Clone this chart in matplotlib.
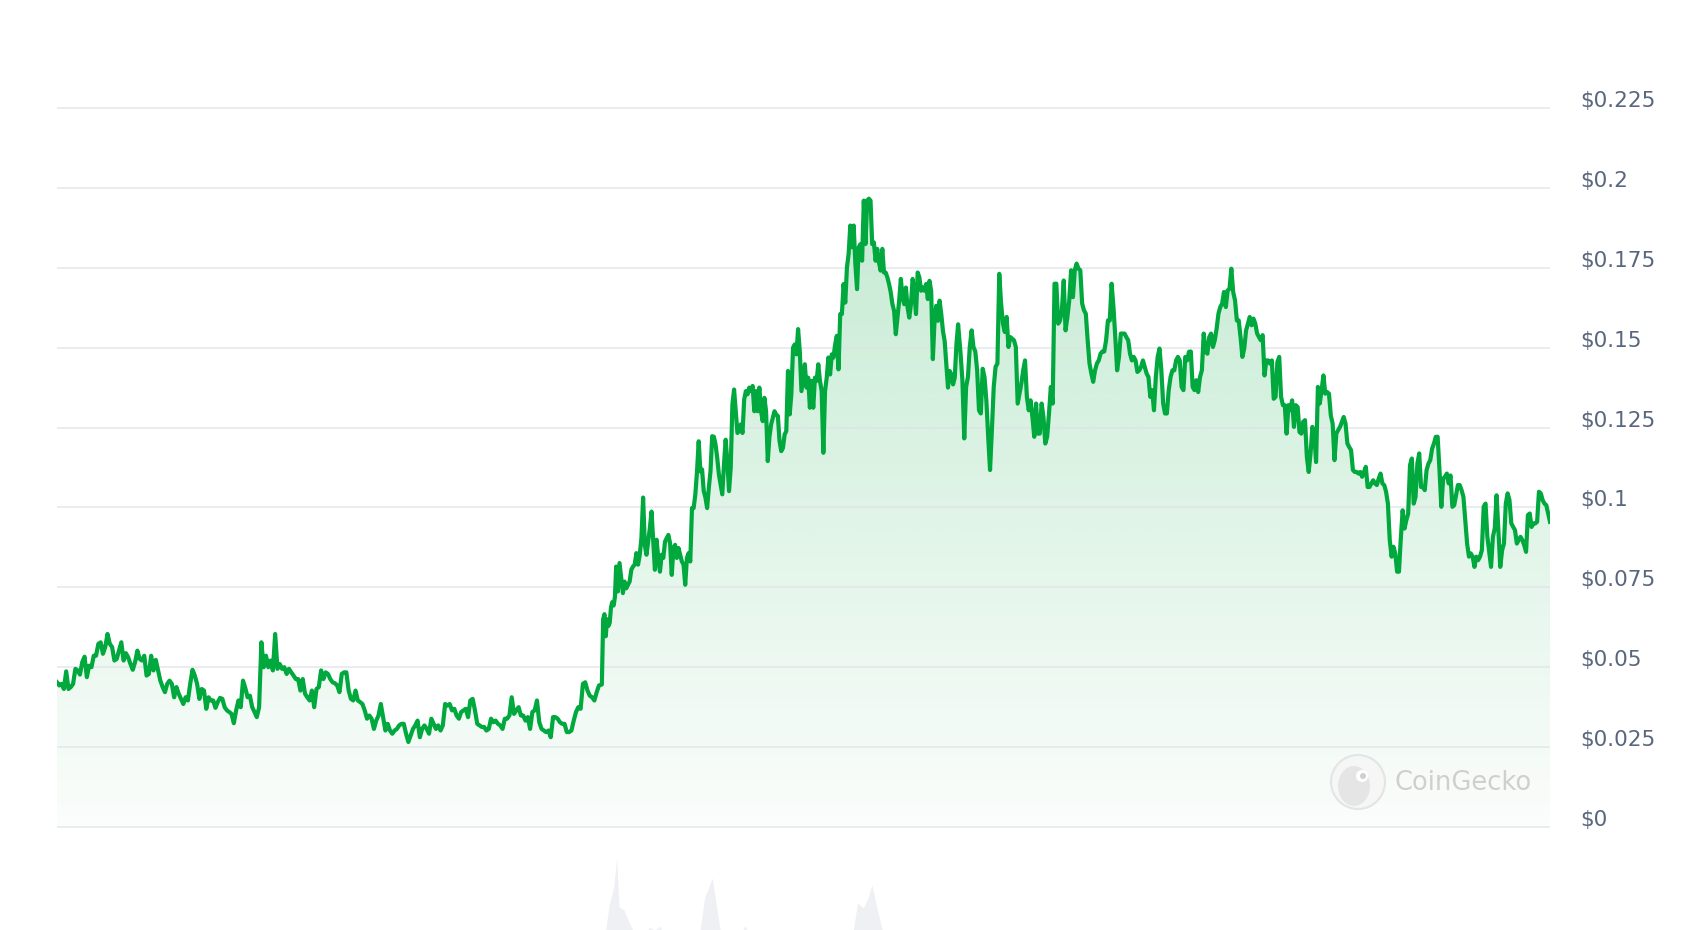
import numpy as np
import matplotlib
matplotlib.use("Agg")
import matplotlib.pyplot as plt
from matplotlib.colors import to_rgb
from matplotlib.patches import Circle, Ellipse, Polygon
from matplotlib.transforms import IdentityTransform, ScaledTranslation

# price series in four stretches (day ranges of a 365 day window)
seg_days = [(0.0, 132.5), (133.2, 136.4), (136.7, 220.3), (220.9, 365.0)]

price_a = [
    0.0453, 0.0443, 0.0448, 0.0432, 0.0487, 0.0432, 0.0438, 0.0448, 0.0495, 0.0490,
    0.0477, 0.0516, 0.0533, 0.0469, 0.0505, 0.0500, 0.0536, 0.0536, 0.0573, 0.0578,
    0.0542, 0.0563, 0.0604, 0.0573, 0.0563, 0.0521, 0.0526, 0.0552, 0.0578, 0.0521,
    0.0544, 0.0531, 0.0510, 0.0492, 0.0516, 0.0552, 0.0526, 0.0521, 0.0536, 0.0474,
    0.0479, 0.0536, 0.0490, 0.0523, 0.0490, 0.0458, 0.0438, 0.0422, 0.0448, 0.0458,
    0.0448, 0.0406, 0.0438, 0.0417, 0.0401, 0.0385, 0.0406, 0.0396, 0.0448, 0.0492,
    0.0474, 0.0448, 0.0401, 0.0432, 0.0427, 0.0370, 0.0406, 0.0396, 0.0396, 0.0373,
    0.0391, 0.0404, 0.0401, 0.0375, 0.0365, 0.0360, 0.0354, 0.0325, 0.0365, 0.0396,
    0.0375, 0.0458, 0.0435, 0.0406, 0.0411, 0.0375, 0.0360, 0.0344, 0.0375, 0.0578,
    0.0500, 0.0536, 0.0500, 0.0521, 0.0490, 0.0604, 0.0495, 0.0510, 0.0495, 0.0500,
    0.0479, 0.0495, 0.0484, 0.0474, 0.0463, 0.0463, 0.0427, 0.0463, 0.0417, 0.0406,
    0.0396, 0.0427, 0.0375, 0.0432, 0.0438, 0.0490, 0.0463, 0.0484, 0.0479, 0.0463,
    0.0453, 0.0450, 0.0443, 0.0422, 0.0479, 0.0484, 0.0484, 0.0427, 0.0401, 0.0396,
    0.0427, 0.0396, 0.0391, 0.0385, 0.0365, 0.0339, 0.0349, 0.0339, 0.0307, 0.0333,
    0.0349, 0.0385, 0.0344, 0.0302, 0.0323, 0.0302, 0.0292, 0.0302, 0.0307, 0.0318,
    0.0323, 0.0323, 0.0292, 0.0266, 0.0286, 0.0307, 0.0318, 0.0333, 0.0281, 0.0307,
    0.0318, 0.0307, 0.0292, 0.0339, 0.0323, 0.0307, 0.0318, 0.0302, 0.0318, 0.0385,
    0.0380, 0.0385, 0.0365, 0.0370, 0.0349, 0.0339, 0.0360, 0.0365, 0.0370, 0.0344,
    0.0396, 0.0401, 0.0365, 0.0323, 0.0318, 0.0313, 0.0313, 0.0302, 0.0307, 0.0339,
    0.0328, 0.0333, 0.0323, 0.0318, 0.0307, 0.0339, 0.0339, 0.0349, 0.0406, 0.0354,
    0.0365, 0.0375, 0.0349, 0.0349, 0.0333, 0.0344, 0.0307, 0.0360, 0.0365, 0.0396,
    0.0328, 0.0307, 0.0302, 0.0297, 0.0302, 0.0281, 0.0344, 0.0344, 0.0339, 0.0328,
    0.0323, 0.0323, 0.0297, 0.0297, 0.0302, 0.0333, 0.0360, 0.0375, 0.0370, 0.0448,
    0.0453, 0.0427, 0.0411, 0.0406, 0.0396, 0.0422, 0.0443,
]

price_b = [0.0446, 0.0650, 0.0666, 0.0597, 0.0650, 0.0629, 0.0639, 0.0688, 0.0704, 0.0693, 0.0720]

price_c = [
    0.0815, 0.0737, 0.0826, 0.0779, 0.0732, 0.0768, 0.0747, 0.0758, 0.0768, 0.0805,
    0.0815, 0.0821, 0.0857, 0.0821, 0.0852, 0.0904, 0.1031, 0.0883, 0.0852, 0.0893,
    0.0935, 0.0987, 0.0893, 0.0805, 0.0899, 0.0842, 0.0799, 0.0852, 0.0842, 0.0893,
    0.0904, 0.0914, 0.0888, 0.0789, 0.0873, 0.0883, 0.0842, 0.0873, 0.0852, 0.0831,
    0.0821, 0.0758, 0.0842, 0.0857, 0.0831, 0.0998, 0.0998, 0.1041, 0.1113, 0.1207,
    0.1113, 0.1119, 0.1051, 0.1031, 0.0998, 0.1061, 0.1113, 0.1223, 0.1221, 0.1197,
    0.1155, 0.1103, 0.1071, 0.1041, 0.1134, 0.1212, 0.1145, 0.1051, 0.1124, 0.1322,
    0.1369, 0.1301, 0.1233, 0.1239, 0.1260, 0.1233, 0.1338, 0.1364, 0.1354, 0.1375,
    0.1364, 0.1380, 0.1301, 0.1364, 0.1301, 0.1375, 0.1301, 0.1270, 0.1343, 0.1301,
    0.1145, 0.1221, 0.1260, 0.1280, 0.1301, 0.1291, 0.1286, 0.1207, 0.1176, 0.1186,
    0.1228, 0.1239, 0.1427, 0.1291, 0.1354, 0.1500, 0.1510, 0.1479, 0.1558, 0.1490,
    0.1364, 0.1406, 0.1448, 0.1375, 0.1406, 0.1312, 0.1396, 0.1312, 0.1406, 0.1396,
    0.1448, 0.1396, 0.1364, 0.1171, 0.1364, 0.1406, 0.1469, 0.1416, 0.1479, 0.1469,
    0.1510, 0.1537, 0.1432, 0.1605, 0.1605, 0.1699, 0.1641, 0.1751, 0.1793, 0.1882,
    0.1814, 0.1882, 0.1762, 0.1683, 0.1814, 0.1824, 0.1772, 0.1960, 0.1824, 0.1960,
    0.1966, 0.1960, 0.1824, 0.1829, 0.1772, 0.1809, 0.1767, 0.1741, 0.1809, 0.1735,
    0.1735, 0.1720, 0.1699, 0.1673, 0.1636, 0.1615, 0.1542, 0.1594, 0.1647, 0.1715,
    0.1657, 0.1636, 0.1688, 0.1626, 0.1594, 0.1636, 0.1715, 0.1673, 0.1605, 0.1735,
    0.1720, 0.1678, 0.1688, 0.1678, 0.1699, 0.1652, 0.1709, 0.1678, 0.1464, 0.1584,
    0.1631, 0.1584, 0.1647, 0.1605, 0.1552, 0.1521, 0.1448, 0.1375, 0.1427, 0.1416,
    0.1385, 0.1406, 0.1510, 0.1573,
]

price_d = [
    0.1481, 0.1398, 0.1216, 0.1377, 0.1408, 0.1502, 0.1554, 0.1502, 0.1488, 0.1429,
    0.1304, 0.1294, 0.1434, 0.1408, 0.1335, 0.1221, 0.1117, 0.1242, 0.1377, 0.1440,
    0.1450, 0.1731, 0.1638, 0.1575, 0.1549, 0.1596, 0.1502, 0.1533, 0.1528, 0.1523,
    0.1502, 0.1325, 0.1356, 0.1388, 0.1429, 0.1460, 0.1346, 0.1304, 0.1335, 0.1283,
    0.1221, 0.1325, 0.1231, 0.1231, 0.1325, 0.1283, 0.1200, 0.1221, 0.1294, 0.1377,
    0.1325, 0.1700, 0.1700, 0.1575, 0.1585, 0.1617, 0.1710, 0.1554, 0.1596, 0.1648,
    0.1742, 0.1658, 0.1742, 0.1763, 0.1747, 0.1742, 0.1638, 0.1617, 0.1606, 0.1523,
    0.1450, 0.1419, 0.1393, 0.1429, 0.1450, 0.1460, 0.1481, 0.1488, 0.1488, 0.1523,
    0.1585, 0.1585, 0.1700, 0.1627, 0.1533, 0.1429, 0.1471, 0.1544, 0.1544, 0.1544,
    0.1533, 0.1523, 0.1481, 0.1460, 0.1471, 0.1460, 0.1424, 0.1429, 0.1440, 0.1460,
    0.1440, 0.1419, 0.1408, 0.1346, 0.1367, 0.1304, 0.1408, 0.1471, 0.1497, 0.1429,
    0.1325, 0.1294, 0.1294, 0.1367, 0.1408, 0.1429, 0.1429, 0.1460, 0.1471, 0.1460,
    0.1377, 0.1367, 0.1471, 0.1460, 0.1487, 0.1488, 0.1377, 0.1367, 0.1398, 0.1361,
    0.1408, 0.1429, 0.1544, 0.1488, 0.1481, 0.1533, 0.1544, 0.1502, 0.1523, 0.1559,
    0.1606, 0.1627, 0.1638, 0.1674, 0.1627, 0.1679, 0.1684, 0.1747, 0.1674, 0.1648,
    0.1585, 0.1585, 0.1533, 0.1471, 0.1497, 0.1554, 0.1575, 0.1596, 0.1570, 0.1591,
    0.1575, 0.1544, 0.1533, 0.1523, 0.1539, 0.1413, 0.1460, 0.1460, 0.1450, 0.1460,
    0.1340, 0.1346, 0.1455, 0.1471, 0.1346, 0.1320, 0.1320, 0.1231, 0.1320, 0.1304,
    0.1335, 0.1252, 0.1320, 0.1314, 0.1236, 0.1231, 0.1268, 0.1273, 0.1158, 0.1111,
    0.1169, 0.1252, 0.1231, 0.1142, 0.1377, 0.1325, 0.1367, 0.1413, 0.1356, 0.1361,
    0.1356, 0.1288, 0.1262, 0.1148, 0.1231, 0.1242, 0.1252, 0.1268, 0.1283, 0.1262,
    0.1200, 0.1189, 0.1179, 0.1117, 0.1111, 0.1111, 0.1106, 0.1111, 0.1096, 0.1111,
    0.1127, 0.1064, 0.1064, 0.1075, 0.1085, 0.1075, 0.1070, 0.1090, 0.1106, 0.1075,
    0.1070, 0.1049, 0.1012, 0.0898, 0.0846, 0.0877, 0.0856, 0.0799, 0.0799, 0.0903,
    0.0991, 0.0934, 0.0960, 0.0981, 0.1132, 0.1153, 0.1012, 0.1033, 0.1137, 0.1169,
    0.1064, 0.1064, 0.1054, 0.1117, 0.1137, 0.1148, 0.1184, 0.1200, 0.1221, 0.1221,
    0.1117, 0.1002, 0.1090, 0.1096, 0.1106, 0.1075, 0.1100, 0.1002, 0.1007, 0.1038,
    0.1070, 0.1070, 0.1054, 0.1033, 0.0960, 0.0887, 0.0846, 0.0856, 0.0846, 0.0814,
    0.0846, 0.0835, 0.0846, 0.0866, 0.1002, 0.1012, 0.0908, 0.0861, 0.0814, 0.0908,
    0.0934, 0.1038, 0.0929, 0.0814, 0.0866, 0.0887, 0.1012, 0.1044, 0.1023, 0.0950,
    0.0939, 0.0929, 0.0887, 0.0898, 0.0908, 0.0898, 0.0882, 0.0861, 0.0976, 0.0981,
    0.0939, 0.0950, 0.0950, 0.0955, 0.1049, 0.1044, 0.1023, 0.1012, 0.1007, 0.0981,
    0.0955,
]

# trading volume (only the tall spikes poke into view at the bottom)
vol_days = [0, 133.9, 134.9, 136.1, 136.8, 137.4, 138.6, 139.6, 140.5, 141.9, 143.8,
            144.7, 146.1, 147.5, 148.5, 156.9, 158.3, 160.2, 161.1, 162.5, 166.7,
            168.1, 169.5, 170.5, 171.4, 194.3, 195.7, 197.1, 198.3, 199.2, 200.4,
            202.3, 365]
vol = [20, 23, 53, 73, 102, 53, 50, 40, 32, 20, 20, 33, 30, 34, 20, 20, 62, 82, 57,
       20, 20, 34, 25, 27, 20, 20, 57, 52, 62, 75, 53, 20, 20]

tick_values = [0, 0.025, 0.05, 0.075, 0.1, 0.125, 0.15, 0.175, 0.2, 0.225]
tick_labels = ["$0", "$0.025", "$0.05", "$0.075", "$0.1", "$0.125", "$0.15",
               "$0.175", "$0.2", "$0.225"]

GREEN = "#00a83e"
LABEL = "#58667e"

segments = [price_a, price_b, price_c, price_d]
days = np.concatenate([np.linspace(d0, d1, len(p)) for (d0, d1), p in zip(seg_days, segments)])
prices = np.concatenate([np.array(p) for p in segments])

W, H = 1690, 930
fig = plt.figure(figsize=(W / 100, H / 100), dpi=100)
fig.patch.set_facecolor("white")

ax = fig.add_axes([57 / W, 71 / H, 1493 / W, 799 / H])
for s in ax.spines.values():
    s.set_visible(False)
ax.set_xticks([])

# gradient fill under the line
grad = np.zeros((256, 1, 4))
grad[..., :3] = to_rgb(GREEN)
grad[:, 0, 3] = np.linspace(0.02, 0.23, 256)
img = ax.imshow(grad, extent=[days[0], days[-1], 0, prices.max()], origin="lower",
                aspect="auto", zorder=1, interpolation="bilinear")
verts = np.column_stack([np.r_[days[0], days, days[-1]], np.r_[0, prices, 0]])
clip = Polygon(verts, closed=True, facecolor="none", edgecolor="none")
ax.add_patch(clip)
img.set_clip_path(clip)
ax.set_xlim(0, 365)
ax.set_ylim(-0.01, 0.24)

for v in tick_values:
    ax.axhline(v, color="#dfe2e8", lw=1.2, alpha=0.75, zorder=2)

ax.plot(days, prices, color=GREEN, lw=3.0, solid_joinstyle="round", zorder=3)

ax.yaxis.tick_right()
ax.set_yticks(tick_values)
ax.set_yticklabels(tick_labels)
ax.tick_params(axis="y", length=0, pad=22, labelsize=15.5, labelcolor=LABEL)
shift = ScaledTranslation(0, 0.09, fig.dpi_scale_trans)
for lab in ax.get_yticklabels():
    lab.set_transform(lab.get_transform() + shift)

# volume strip at the very bottom
vax = fig.add_axes([57 / W, 0, 1493 / W, 80 / H])
vax.fill_between(vol_days, vol, 0, color="#eef0f4", lw=0)
vax.set_xlim(0, 365)
vax.set_ylim(30, 110)
vax.axis("off")

# CoinGecko watermark
ident = IdentityTransform()
fig.add_artist(Circle((1358, H - 782), 27, transform=ident, facecolor="#f6f6f6",
                      edgecolor="#e2e2e2", lw=1.5, alpha=0.9))
fig.add_artist(Ellipse((1354, H - 786), 32, 40, transform=ident, facecolor="#e4e4e4",
                       edgecolor="none", alpha=0.9))
fig.add_artist(Circle((1362, H - 776), 6, transform=ident, facecolor="white",
                      edgecolor="none"))
fig.add_artist(Circle((1363, H - 776), 3, transform=ident, facecolor="#cfcfcf",
                      edgecolor="none"))
fig.text(1395 / W, 1 - 783 / H, "CoinGecko", fontsize=18.5, color="#cfcfcf",
         va="center", ha="left")

fig.savefig("out.png", dpi=100, facecolor="white")
